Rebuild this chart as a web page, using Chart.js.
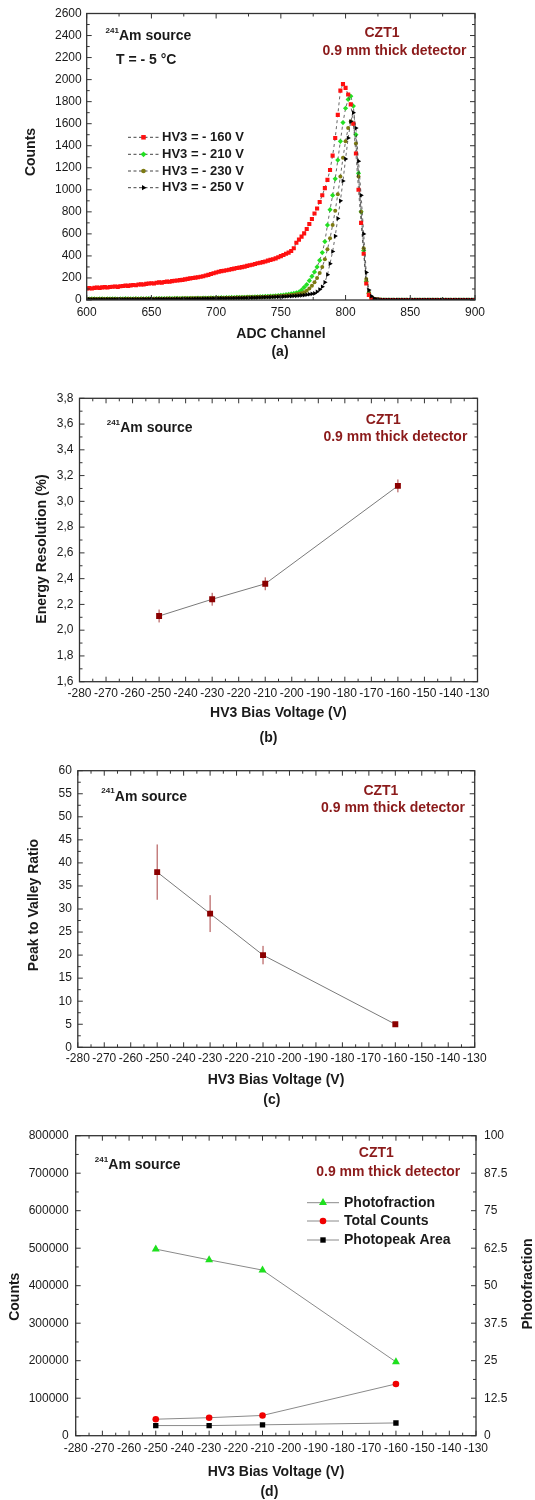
<!DOCTYPE html>
<html>
<head>
<meta charset="utf-8">
<script src="https://cdn.jsdelivr.net/npm/chart.js@4.4.1/dist/chart.umd.min.js"></script>
<style>
  body { margin: 0; background: #fff; width: 535px; height: 1500px; position: relative; overflow: hidden; }
  canvas { position: absolute; left: 0; }
</style>
</head>
<body>
<canvas id="chart-a" width="535" height="365" style="top:0px"></canvas>
<canvas id="chart-b" width="535" height="380" style="top:365px"></canvas>
<canvas id="chart-c" width="535" height="365" style="top:745px"></canvas>
<canvas id="chart-d" width="535" height="390" style="top:1110px"></canvas>
<script>
// ---- (a) spectra: ADC channel vs counts ----
const channels = [
  600, 602, 604, 606, 608, 610, 612, 614, 616, 618,
  620, 622, 624, 626, 628, 630, 632, 634, 636, 638,
  640, 642, 644, 646, 648, 650, 652, 654, 656, 658,
  660, 662, 664, 666, 668, 670, 672, 674, 676, 678,
  680, 682, 684, 686, 688, 690, 692, 694, 696, 698,
  700, 702, 704, 706, 708, 710, 712, 714, 716, 718,
  720, 722, 724, 726, 728, 730, 732, 734, 736, 738,
  740, 742, 744, 746, 748, 750, 752, 754, 756, 758,
  760, 762, 764, 766, 768, 770, 772, 774, 776, 778,
  780, 782, 784, 786, 788, 790, 792, 794, 796, 798,
  800, 802, 804, 806, 808, 810, 812, 814, 816, 818,
  820, 822, 824, 826, 828, 830, 832, 834, 836, 838,
  840, 842, 844, 846, 848, 850, 852, 854, 856, 858,
  860, 862, 864, 866, 868, 870, 872, 874, 876, 878,
  880, 882, 884, 886, 888, 890, 892, 894, 896, 898,
  900
];
const hv160 = [
  105, 108, 104, 110, 112, 110, 115, 117, 114, 118,
  120, 122, 119, 125, 127, 130, 128, 133, 136, 134,
  140, 142, 140, 146, 150, 152, 150, 156, 160, 158,
  164, 167, 165, 171, 175, 177, 180, 183, 187, 192,
  196, 200, 203, 207, 211, 216, 222, 228, 236, 243,
  250, 256, 262, 266, 270, 274, 280, 285, 290, 294,
  298, 303, 310, 315, 320, 327, 333, 338, 344, 350,
  357, 364, 370, 378, 388, 398, 408, 420, 430, 445,
  470, 520, 548, 575, 605, 645, 690, 735, 785, 830,
  890, 950, 1015, 1090, 1180, 1310, 1470, 1680, 1900, 1960,
  1925, 1865, 1775, 1600, 1330, 1000, 700, 420, 150, 45,
  12, 4, 2, 1, 0, 0, 0, 0, 0, 0,
  0, 0, 0, 0, 0, 0, 0, 0, 0, 0,
  0, 0, 0, 0, 0, 0, 0, 0, 0, 0,
  0, 0, 0, 0, 0, 0, 0, 0, 0, 0,
  0
];
const hv210 = [
  10, 9, 11, 10, 8, 10, 11, 9, 10, 10,
  10, 11, 9, 10, 10, 12, 10, 11, 10, 12,
  11, 12, 10, 12, 13, 12, 11, 13, 12, 13,
  13, 12, 14, 13, 14, 15, 13, 15, 14, 16,
  15, 16, 15, 17, 16, 18, 17, 18, 19, 18,
  20, 19, 21, 20, 22, 21, 23, 22, 24, 23,
  25, 24, 26, 27, 26, 28, 29, 30, 31, 32,
  33, 35, 36, 38, 40, 42, 45, 48, 52, 56,
  60, 65, 72, 90, 115, 140, 175, 215, 255, 300,
  360, 430, 530, 680, 820, 950, 1100, 1270, 1440, 1610,
  1740, 1820, 1850, 1760, 1500, 1150, 800, 450, 170, 60,
  20, 8, 4, 2, 1, 0, 0, 0, 0, 0,
  0, 0, 0, 0, 0, 0, 0, 0, 0, 0,
  0, 0, 0, 0, 0, 0, 0, 0, 0, 0,
  0, 0, 0, 0, 0, 0, 0, 0, 0, 0,
  0
];
const hv230 = [
  8, 9, 8, 10, 9, 8, 10, 9, 8, 9,
  9, 10, 9, 9, 10, 10, 11, 10, 10, 11,
  10, 11, 11, 12, 11, 12, 12, 11, 13, 12,
  12, 13, 13, 12, 14, 13, 14, 14, 15, 14,
  15, 15, 16, 15, 16, 17, 16, 17, 18, 17,
  18, 18, 19, 19, 20, 20, 21, 21, 22, 22,
  23, 23, 24, 25, 25, 26, 27, 27, 28, 29,
  30, 31, 32, 33, 35, 36, 38, 40, 42, 45,
  48, 52, 56, 62, 70, 85, 105, 130, 160, 200,
  245, 300, 370, 460, 560, 680, 810, 960, 1120, 1290,
  1440, 1560, 1620, 1600, 1420, 1120, 800, 470, 190, 70,
  22, 8, 4, 2, 1, 0, 0, 0, 0, 0,
  0, 0, 0, 0, 0, 0, 0, 0, 0, 0,
  0, 0, 0, 0, 0, 0, 0, 0, 0, 0,
  0, 0, 0, 0, 0, 0, 0, 0, 0, 0,
  0
];
const hv250 = [
  5, 6, 5, 6, 5, 6, 6, 5, 6, 6,
  6, 6, 7, 6, 7, 6, 7, 7, 6, 7,
  7, 7, 8, 7, 8, 8, 7, 8, 8, 9,
  8, 9, 9, 8, 9, 10, 9, 10, 10, 11,
  10, 11, 11, 12, 11, 12, 13, 12, 13, 14,
  13, 14, 15, 14, 15, 16, 16, 17, 17, 18,
  18, 19, 19, 20, 21, 21, 22, 23, 24, 25,
  25, 26, 27, 28, 29, 30, 31, 32, 34, 35,
  37, 38, 40, 42, 45, 48, 52, 56, 60, 75,
  95, 120, 160, 230, 330, 440, 580, 740, 900, 1080,
  1280, 1470, 1620, 1700, 1560, 1260, 950, 600, 250, 90,
  35, 14, 6, 3, 2, 2, 2, 2, 2, 2,
  2, 2, 2, 2, 2, 2, 2, 2, 2, 2,
  2, 2, 2, 2, 2, 2, 2, 2, 2, 2,
  2, 2, 2, 2, 2, 2, 2, 2, 2, 2,
  2
];
const adcTicks = [600, 650, 700, 750, 800, 850, 900];
const countsATicks = [0, 200, 400, 600, 800, 1000, 1200, 1400, 1600, 1800, 2000, 2200, 2400, 2600];

// ---- (b), (c), (d): vs HV3 bias voltage ----
const biasVolts = [-250, -230, -210, -160];
const energyRes = [2.11, 2.24, 2.36, 3.12];
const energyResErr = [0.05, 0.05, 0.05, 0.05];
const peakValley = [38, 29, 20, 5];
const peakValleyErr = [6, 4, 2, 0.5];
const photofraction = [62.2, 58.6, 55.2, 24.6];
const totalCounts = [44000, 48000, 54000, 138000];
const photopeakArea = [27000, 27000, 29000, 34000];

const biasTicks = [-280, -270, -260, -250, -240, -230, -220, -210, -200, -190, -180, -170, -160, -150, -140, -130];
const resTicks = [1.6, 1.8, 2.0, 2.2, 2.4, 2.6, 2.8, 3.0, 3.2, 3.4, 3.6, 3.8];
const resTickLabels = ['1,6', '1,8', '2,0', '2,2', '2,4', '2,6', '2,8', '3,0', '3,2', '3,4', '3,6', '3,8'];
const pvTicks = [0, 5, 10, 15, 20, 25, 30, 35, 40, 45, 50, 55, 60];
const countsDTicks = [0, 100000, 200000, 300000, 400000, 500000, 600000, 700000, 800000];
const fracTicks = [0, 12.5, 25, 37.5, 50, 62.5, 75, 87.5, 100];

const FONT = "'Liberation Sans', Arial, Helvetica, sans-serif";
const INK = '#1a1a1a';
const DARKRED = '#8b1a1a';
Chart.defaults.font.family = FONT;
Chart.defaults.color = INK;

function drawMarker(ctx, style, x, y, r, color, rot) {
    ctx.save();
    ctx.translate(x, y);
    if (rot) ctx.rotate(rot * Math.PI / 180);
    ctx.fillStyle = color;
    ctx.beginPath();
    if (style === 'rect') {
        const s = r * Math.SQRT1_2;
        ctx.rect(-s, -s, 2 * s, 2 * s);
    } else if (style === 'rectRot') {
        ctx.moveTo(0, -r); ctx.lineTo(r, 0); ctx.lineTo(0, r); ctx.lineTo(-r, 0); ctx.closePath();
    } else if (style === 'triangle') {
        ctx.moveTo(0, -r); ctx.lineTo(r * 0.866, r * 0.5); ctx.lineTo(-r * 0.866, r * 0.5); ctx.closePath();
    } else {
        ctx.arc(0, 0, r, 0, Math.PI * 2);
    }
    ctx.fill();
    ctx.restore();
}

// рамка з внутрішніми рисками на всіх чотирьох сторонах
function makeFrame(axes) {
    return {
        id: 'frame',
        afterDraw(chart) {
            const {ctx, chartArea: a} = chart;
            ctx.save();
            ctx.strokeStyle = '#333';
            ctx.lineWidth = 1.3;
            ctx.strokeRect(a.left, a.top, a.right - a.left, a.bottom - a.top);
            ctx.lineWidth = 1;
            ctx.beginPath();
            axes.forEach(ax => {
                const s = chart.scales[ax.id];
                const vals = s.ticks.map(t => t.value);
                const marks = vals.map(v => [v, 5]);
                for (let i = 0; i < vals.length - 1; i++) marks.push([(vals[i] + vals[i + 1]) / 2, 3]);
                marks.forEach(([v, len]) => {
                    const p = s.getPixelForValue(v);
                    ax.sides.forEach(side => {
                        if (side === 'bottom') { ctx.moveTo(p, a.bottom); ctx.lineTo(p, a.bottom - len); }
                        if (side === 'top') { ctx.moveTo(p, a.top); ctx.lineTo(p, a.top + len); }
                        if (side === 'left') { ctx.moveTo(a.left, p); ctx.lineTo(a.left + len, p); }
                        if (side === 'right') { ctx.moveTo(a.right, p); ctx.lineTo(a.right - len, p); }
                    });
                });
            });
            ctx.stroke();
            ctx.restore();
        }
    };
}

// підписи всередині/навколо графіка (координати сторінки)
function makeNotes(dy, items) {
    return {
        id: 'notes',
        afterDraw(chart) {
            const ctx = chart.ctx;
            items.forEach(n => {
                ctx.save();
                ctx.font = `${n.weight || 'bold'} ${n.size || 14}px ${FONT}`;
                ctx.fillStyle = n.color || INK;
                ctx.textAlign = n.align || 'left';
                ctx.textBaseline = 'middle';
                ctx.translate(n.x, n.y - dy);
                if (n.rot) ctx.rotate(n.rot * Math.PI / 180);
                ctx.fillText(n.text, 0, 0);
                ctx.restore();
            });
        }
    };
}

function makeErrorBars(dsIndex, errors, color) {
    return {
        id: 'errbars',
        beforeDatasetsDraw(chart) {
            const ds = chart.data.datasets[dsIndex];
            const ys = chart.scales[ds.yAxisID || 'y'];
            const meta = chart.getDatasetMeta(dsIndex);
            const ctx = chart.ctx;
            ctx.save();
            ctx.strokeStyle = color;
            ctx.lineWidth = 1;
            ctx.beginPath();
            meta.data.forEach((pt, i) => {
                const v = ds.data[i].y;
                ctx.moveTo(pt.x, ys.getPixelForValue(v - errors[i]));
                ctx.lineTo(pt.x, ys.getPixelForValue(v + errors[i]));
            });
            ctx.stroke();
            ctx.restore();
        }
    };
}

function makeLegend(dy, cfg) {
    return {
        id: 'customLegend',
        afterDraw(chart) {
            const ctx = chart.ctx;
            chart.data.datasets.forEach((ds, i) => {
                const y = cfg.rows[i] - dy;
                ctx.save();
                ctx.strokeStyle = cfg.lineColor;
                ctx.lineWidth = 1;
                ctx.setLineDash(cfg.dash || []);
                ctx.beginPath();
                ctx.moveTo(cfg.x0, y); ctx.lineTo(cfg.x1, y);
                ctx.stroke();
                ctx.restore();
                drawMarker(ctx, ds.pointStyle, cfg.mx, y, (ds.pointRadius || 2) + (cfg.grow || 0), ds.pointBackgroundColor, ds.pointRotation || 0);
                ctx.save();
                ctx.font = `bold ${cfg.size}px ${FONT}`;
                ctx.fillStyle = INK;
                ctx.textBaseline = 'middle';
                ctx.fillText(ds.label, cfg.tx, y);
                ctx.restore();
            });
        }
    };
}

function linScale(ticksArr, labels, opts) {
    const sc = {
        type: 'linear',
        min: ticksArr[0],
        max: ticksArr[ticksArr.length - 1],
        afterBuildTicks: s => { s.ticks = ticksArr.map(v => ({value: v})); },
        grid: {display: false, drawTicks: false},
        border: {display: false},
        ticks: {
            autoSkip: false, maxRotation: 0, minRotation: 0,
            padding: opts.pad, color: INK, font: {size: 12},
            callback: (v, i) => labels ? labels[i] : String(ticksArr[i])
        }
    };
    if (opts.position) sc.position = opts.position;
    if (opts.width != null) sc.afterFit = s => { s.width = opts.width; };
    if (opts.height != null) sc.afterFit = s => { s.height = opts.height; };
    return sc;
}

function pts(xs, ys) {
    return xs.map((x, i) => ({x, y: ys[i]}));
}

function amSource(x, y) {
    return [
        {text: '241', x: x, y: y - 5.5, size: 8},
        {text: 'Am source', x: x + 13.5, y: y, size: 14}
    ];
}

function czt(cx1, y1, cx2, y2) {
    return [
        {text: 'CZT1', x: cx1, y: y1, align: 'center', color: DARKRED},
        {text: '0.9 mm thick detector', x: cx2, y: y2, align: 'center', color: DARKRED}
    ];
}

// ---------------- (a) ----------------
const specLine = {borderColor: 'rgba(45,45,45,0.9)', borderWidth: 0.8, borderDash: [3, 3], showLine: true, pointBorderWidth: 0};
new Chart(document.getElementById('chart-a'), {
    type: 'scatter',
    data: {
        datasets: [
            {...specLine, label: 'HV3 = - 160 V', data: pts(channels, hv160), pointStyle: 'rect', pointRadius: 2.9, pointBackgroundColor: '#ff1010', order: 1},
            {...specLine, label: 'HV3 = - 210 V', data: pts(channels, hv210), pointStyle: 'rectRot', pointRadius: 2.6, pointBackgroundColor: '#22e022', order: 3},
            {...specLine, label: 'HV3 = - 230 V', data: pts(channels, hv230), pointStyle: 'circle', pointRadius: 2, pointBackgroundColor: '#7d7a12', order: 2},
            {...specLine, label: 'HV3 = - 250 V', data: pts(channels, hv250), pointStyle: 'triangle', pointRadius: 2.7, pointRotation: 90, pointBackgroundColor: '#000', order: 0}
        ]
    },
    options: {
        responsive: false, animation: false, devicePixelRatio: 1,
        layout: {padding: {left: 0, top: 13.5, right: 60, bottom: 10}},
        plugins: {legend: {display: false}, tooltip: {enabled: false}},
        scales: {
            x: linScale(adcTicks, null, {pad: 5, height: 55}),
            y: linScale(countsATicks, null, {pad: 5, width: 86.7})
        }
    },
    plugins: [
        makeFrame([{id: 'x', sides: ['bottom', 'top']}, {id: 'y', sides: ['left', 'right']}]),
        makeLegend(0, {x0: 128, x1: 159, mx: 143.5, tx: 162, rows: [137.3, 154.3, 171, 187.7], lineColor: '#444', dash: [3, 2.5], size: 13, grow: 0.3}),
        makeNotes(0, [
            ...amSource(105.5, 36.5),
            {text: 'T = - 5 °C', x: 116, y: 60},
            ...czt(382, 33, 394.5, 51),
            {text: 'Counts', x: 31, y: 152, rot: -90, align: 'center'},
            {text: 'ADC Channel', x: 281, y: 334, align: 'center'},
            {text: '(a)', x: 280, y: 352, align: 'center'}
        ])
    ]
});

// ---------------- (b) ----------------
const markerRed = {borderColor: '#7a7a7a', borderWidth: 1, showLine: true, pointStyle: 'rect', pointRadius: 4.2, pointBackgroundColor: '#8b0000', pointBorderWidth: 0};
new Chart(document.getElementById('chart-b'), {
    type: 'scatter',
    data: {datasets: [{...markerRed, label: 'Energy Resolution', data: pts(biasVolts, energyRes)}]},
    options: {
        responsive: false, animation: false, devicePixelRatio: 1,
        layout: {padding: {left: 0, top: 33.3, right: 57.5, bottom: 10}},
        plugins: {legend: {display: false}, tooltip: {enabled: false}},
        scales: {
            x: linScale(biasTicks, null, {pad: 5, height: 53.3}),
            y: linScale(resTicks, resTickLabels, {pad: 6, width: 79.5})
        }
    },
    plugins: [
        makeFrame([{id: 'x', sides: ['bottom', 'top']}, {id: 'y', sides: ['left', 'right']}]),
        makeErrorBars(0, energyResErr, '#a84040'),
        makeNotes(365, [
            ...amSource(106.7, 428.3),
            ...czt(383.3, 420, 395.4, 437.3),
            {text: 'Energy Resolution (%)', x: 42.6, y: 549, rot: -90, align: 'center'},
            {text: 'HV3 Bias Voltage (V)', x: 278.4, y: 713.5, align: 'center'},
            {text: '(b)', x: 268.5, y: 738.3, align: 'center'}
        ])
    ]
});

// ---------------- (c) ----------------
new Chart(document.getElementById('chart-c'), {
    type: 'scatter',
    data: {datasets: [{...markerRed, label: 'Peak to Valley Ratio', data: pts(biasVolts, peakValley)}]},
    options: {
        responsive: false, animation: false, devicePixelRatio: 1,
        layout: {padding: {left: 0, top: 25.7, right: 60.3, bottom: 10}},
        plugins: {legend: {display: false}, tooltip: {enabled: false}},
        scales: {
            x: linScale(biasTicks, null, {pad: 4, height: 52.7}),
            y: linScale(pvTicks, null, {pad: 6, width: 77.8})
        }
    },
    plugins: [
        makeFrame([{id: 'x', sides: ['bottom', 'top']}, {id: 'y', sides: ['left', 'right']}]),
        makeErrorBars(0, peakValleyErr, '#a84040'),
        makeNotes(745, [
            ...amSource(101.3, 796.7),
            ...czt(380.9, 790.7, 393, 807.7),
            {text: 'Peak to Valley Ratio', x: 34.1, y: 905, rot: -90, align: 'center'},
            {text: 'HV3 Bias Voltage (V)', x: 276, y: 1080, align: 'center'},
            {text: '(c)', x: 271.8, y: 1100, align: 'center'}
        ])
    ]
});

// ---------------- (d) ----------------
const grayLine = {borderColor: '#8a8a8a', borderWidth: 1, showLine: true, pointBorderWidth: 0};
new Chart(document.getElementById('chart-d'), {
    type: 'scatter',
    data: {
        datasets: [
            {...grayLine, label: 'Photofraction', data: pts(biasVolts, photofraction), yAxisID: 'y2', pointStyle: 'triangle', pointRadius: 4.6, pointBackgroundColor: '#1ee01e'},
            {...grayLine, label: 'Total Counts', data: pts(biasVolts, totalCounts), yAxisID: 'y', pointStyle: 'circle', pointRadius: 3.3, pointBackgroundColor: '#f00000'},
            {...grayLine, label: 'Photopeak Area', data: pts(biasVolts, photopeakArea), yAxisID: 'y', pointStyle: 'rect', pointRadius: 3.8, pointBackgroundColor: '#000'}
        ]
    },
    options: {
        responsive: false, animation: false, devicePixelRatio: 1,
        layout: {padding: {left: 0, top: 25.7, right: 19, bottom: 10}},
        plugins: {legend: {display: false}, tooltip: {enabled: false}},
        scales: {
            x: linScale(biasTicks, null, {pad: 6, height: 54.3}),
            y: linScale(countsDTicks, null, {pad: 7, width: 75.7, position: 'left'}),
            y2: linScale(fracTicks, null, {pad: 8, width: 40, position: 'right'})
        }
    },
    plugins: [
        makeFrame([{id: 'x', sides: ['bottom', 'top']}, {id: 'y', sides: ['left']}, {id: 'y2', sides: ['right']}]),
        makeLegend(1110, {x0: 307, x1: 339, mx: 323, tx: 344, rows: [1202.7, 1221, 1240], lineColor: '#8a8a8a', size: 14}),
        makeNotes(1110, [
            ...amSource(94.8, 1165.3),
            ...czt(376.3, 1152.7, 388.2, 1171.7),
            {text: 'Counts', x: 15.3, y: 1296.7, rot: -90, align: 'center'},
            {text: 'Photofraction', x: 528, y: 1284, rot: -90, align: 'center'},
            {text: 'HV3 Bias Voltage (V)', x: 276, y: 1471.7, align: 'center'},
            {text: '(d)', x: 269.4, y: 1491.7, align: 'center'}
        ])
    ]
});
</script>
</body>
</html>
